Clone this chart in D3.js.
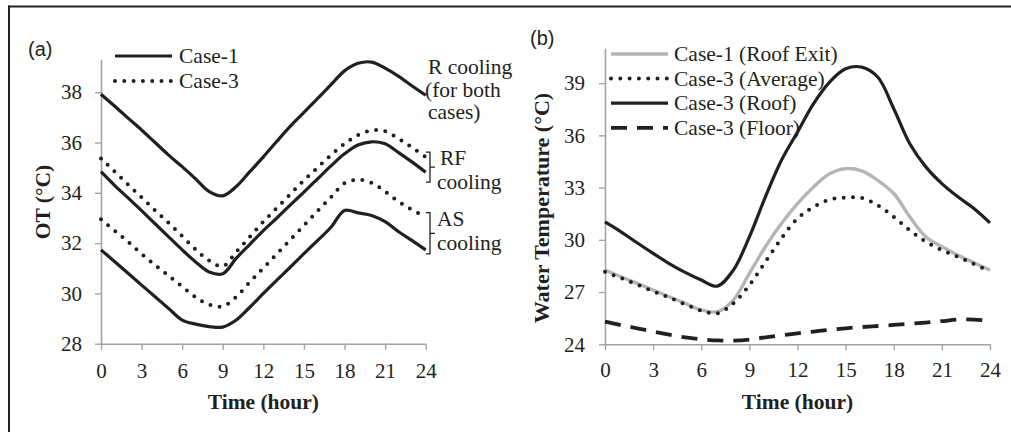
<!DOCTYPE html>
<html><head><meta charset="utf-8">
<script src="https://cdn.jsdelivr.net/npm/d3@7"></script>
<style>
body{margin:0;background:#fff}
svg{display:block}
text{fill:#231f20}
</style>
</head><body>
<svg id="c" width="1011" height="432"></svg>
<script>
// ---------- data ----------
const hours = [0,1,2,3,4,5,6,7,8,9,10,11,12,13,14,15,16,17,18,19,20,21,22,23,24];
const xTicks = [0,3,6,9,12,15,18,21,24];
const otTicks = [28,30,32,34,36,38];
const wtTicks = [24,27,30,33,36,39];

// (a) operative temperature
const otCase1R  = [37.92,37.45,36.97,36.5,36.0,35.5,35.04,34.55,34.05,33.88,34.25,34.84,35.43,36.05,36.65,37.2,37.75,38.3,38.85,39.15,39.2,38.96,38.63,38.25,37.88];
const otCase1RF = [34.84,34.3,33.8,33.29,32.77,32.25,31.73,31.25,30.85,30.78,31.4,31.95,32.5,33.0,33.52,34.03,34.55,35.07,35.55,35.9,36.03,35.95,35.6,35.22,34.82];
const otCase3RF = [35.37,34.85,34.33,33.82,33.3,32.8,32.28,31.75,31.3,31.08,31.65,32.25,32.85,33.4,33.95,34.5,35.0,35.5,35.95,36.3,36.48,36.45,36.15,35.8,35.42];
const otCase1AS = [31.73,31.27,30.8,30.33,29.87,29.4,28.94,28.78,28.68,28.66,28.94,29.45,30.0,30.53,31.05,31.58,32.1,32.63,33.3,33.2,33.1,32.85,32.45,32.1,31.73];
const otCase3AS = [32.95,32.5,32.05,31.57,31.13,30.7,30.27,29.85,29.55,29.48,29.87,30.45,31.01,31.57,32.14,32.7,33.27,33.83,34.38,34.52,34.4,34.05,33.65,33.32,33.05];

// (b) water temperature
const wtCase1RoofExit = [28.26,27.88,27.5,27.11,26.73,26.35,25.97,25.87,26.54,28.07,29.6,30.94,32.08,33.04,33.8,34.09,33.96,33.42,32.66,31.32,30.17,29.6,29.12,28.68,28.26];
const wtCase3Average  = [28.17,27.8,27.43,27.05,26.68,26.3,25.93,25.78,26.35,27.4,28.74,30.08,31.22,31.89,32.31,32.43,32.41,31.99,31.32,30.55,29.89,29.41,29.03,28.61,28.2];
const wtCase3Roof     = [31.03,30.46,29.83,29.22,28.64,28.13,27.69,27.34,28.26,30.17,32.47,34.57,36.19,37.82,39.06,39.82,39.92,39.35,37.53,35.52,34.19,33.23,32.47,31.8,30.97];
const wtCase3Floor    = [25.3,25.1,24.92,24.73,24.55,24.4,24.29,24.22,24.21,24.27,24.4,24.52,24.63,24.73,24.83,24.92,24.99,25.05,25.11,25.18,25.25,25.33,25.42,25.42,25.34];

const legendA = ["Case-1","Case-3"];
const legendB = ["Case-1 (Roof Exit)","Case-3 (Average)","Case-3 (Roof)","Case-3 (Floor)"];

// ---------- drawing ----------
const svg = d3.select("#c");
const INK = "#231f20", AXIS = "#a3a3a3", GREY = "#b5b5b5";
const SERIF = "'Liberation Serif','Times New Roman',serif";
const SANS = "'Liberation Sans',Arial,sans-serif";

// frame
svg.append("line").attr("x1",8).attr("x2",1011).attr("y1",6.5).attr("y2",6.5).attr("stroke",INK).attr("stroke-width",2);
svg.append("line").attr("x1",9).attr("x2",9).attr("y1",5.5).attr("y2",432).attr("stroke",INK).attr("stroke-width",2);

const styles = {
  solid: {w:3.2, dash:null, cap:"butt", color:INK},
  dot:   {w:4.0, dash:"0,9.3", cap:"round", color:INK},
  grey:  {w:3.4, dash:null, cap:"butt", color:GREY},
  dash:  {w:3.8, dash:"16,10", cap:"butt", color:INK}
};
function applyStyle(sel, st){
  sel.attr("fill","none").attr("stroke",st.color).attr("stroke-width",st.w)
     .attr("stroke-linecap",st.cap).attr("stroke-linejoin","round");
  if(st.dash) sel.attr("stroke-dasharray",st.dash);
  return sel;
}

function panel(cfg){
  const g = svg.append("g");
  const x = d3.scaleLinear().domain([0,24]).range(cfg.xr);
  const y = d3.scaleLinear().domain(cfg.yd).range(cfg.yr);
  const ax = g.append("g").attr("transform",`translate(0,${cfg.yr[0]})`)
    .call(d3.axisBottom(x).tickValues(xTicks).tickSize(6).tickSizeOuter(0).tickPadding(cfg.xpad));
  const ay = g.append("g").attr("transform",`translate(${cfg.xr[0]},0)`)
    .call(d3.axisLeft(y).tickValues(cfg.yticks).tickSize(6).tickSizeOuter(0).tickPadding(cfg.ypad));
  [ax,ay].forEach(a=>{
    a.select(".domain").attr("stroke",AXIS).attr("stroke-width",1.6);
    a.selectAll(".tick line").attr("stroke",AXIS).attr("stroke-width",1.4);
    a.selectAll(".tick text").attr("font-family",SERIF).attr("font-size",21).attr("fill",INK);
  });
  const line = d3.line().x((d,i)=>x(hours[i])).y(d=>y(d)).curve(d3.curveCatmullRom);
  cfg.series.forEach(s=>{
    applyStyle(g.append("path").attr("d",line(s.v)), styles[s.st]);
  });
  // axis titles
  g.append("text").attr("x",(cfg.xr[0]+cfg.xr[1])/2).attr("y",cfg.xTitleY)
    .attr("text-anchor","middle").attr("font-family",SERIF).attr("font-weight","bold")
    .attr("font-size",21.5).text("Time (hour)");
  g.append("text").attr("transform",`translate(${cfg.yTitleX},${cfg.yTitleY}) rotate(-90)`)
    .attr("text-anchor","middle").attr("font-family",SERIF).attr("font-weight","bold")
    .attr("font-size",cfg.yTitleSize).text(cfg.yTitle);
  g.append("text").attr("x",cfg.tag[0]).attr("y",cfg.tag[1]).attr("font-family",SANS)
    .attr("font-size",20).text(cfg.tagText);
  // legend
  cfg.legend.forEach((L,i)=>{
    const by = cfg.legY0 + i*cfg.legDy;
    applyStyle(g.append("line").attr("x1",cfg.legX[0]).attr("x2",cfg.legX[1])
      .attr("y1",by-7).attr("y2",by-7), styles[L.st]);
    g.append("text").attr("x",cfg.legX[2]).attr("y",by).attr("font-family",SERIF)
      .attr("font-size",21.5).text(L.name);
  });
  return {g,x,y};
}

const A = panel({
  xr:[101,425.7], yd:[28,39.31], yr:[343.7,59.3], yticks:otTicks, xpad:13, ypad:13,
  series:[
    {v:otCase1R, st:"solid"},{v:otCase1RF, st:"solid"},{v:otCase3RF, st:"dot"},
    {v:otCase1AS, st:"solid"},{v:otCase3AS, st:"dot"}
  ],
  xTitleY:409, yTitleX:50, yTitleY:202, yTitle:"OT (°C)", yTitleSize:21.5,
  tag:[28,56], tagText:"(a)",
  legend:[{name:legendA[0],st:"solid"},{name:legendA[1],st:"dot"}],
  legY0:63, legDy:25, legX:[115,172,179]
});

const B = panel({
  xr:[605,990], yd:[24,41], yr:[344.3,48.3], yticks:wtTicks, xpad:12, ypad:14,
  series:[
    {v:wtCase1RoofExit, st:"grey"},{v:wtCase3Roof, st:"solid"},
    {v:wtCase3Average, st:"dot"},{v:wtCase3Floor, st:"dash"}
  ],
  xTitleY:409, yTitleX:549, yTitleY:208, yTitle:"Water Temperature (°C)", yTitleSize:22,
  tag:[530,45], tagText:"(b)",
  legend:[{name:legendB[0],st:"grey"},{name:legendB[1],st:"dot"},{name:legendB[2],st:"solid"},{name:legendB[3],st:"dash"}],
  legY0:61, legDy:24.6, legX:[611,668,674]
});

// annotations in panel (a)
const ann = A.g;
function txt(x,y,s){ ann.append("text").attr("x",x).attr("y",y).attr("font-family",SERIF).attr("font-size",21.5).text(s); }
txt(428,74,"R cooling");
txt(425,97,"(for both");
txt(428,119,"cases)");
function bracket(y0,y1){
  const xv=430, ym=(y0+y1)/2;
  ann.append("path").attr("d",`M426,${y0}H${xv}V${y1}H426M${xv},${ym}H435`)
    .attr("fill","none").attr("stroke",INK).attr("stroke-width",1.3);
  return ym;
}
const rfTop = A.y(otCase3RF[24]) - 5, rfBot = A.y(otCase1RF[24]) + 10;
bracket(rfTop, rfBot);
txt(440,165,"RF");
txt(437,189,"cooling");
const asTop = A.y(otCase3AS[24]) - 4, asBot = A.y(otCase1AS[24]) + 4;
bracket(asTop, asBot);
txt(437,226,"AS");
txt(437,250,"cooling");
</script>
</body></html>
